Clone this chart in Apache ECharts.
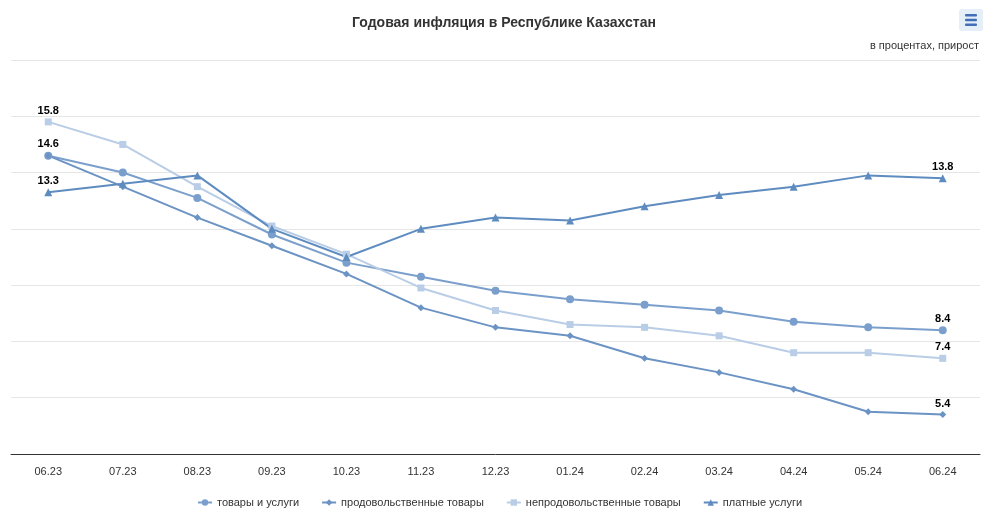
<!DOCTYPE html>
<html><head><meta charset="utf-8">
<script src="https://cdn.jsdelivr.net/npm/echarts@6/dist/echarts.min.js"></script>
<style>html,body{margin:0;padding:0;background:#fff}#c{width:1008px;height:529px}</style>
</head><body><div id="c"></div>
<script>
var categories = ['06.23','07.23','08.23','09.23','10.23','11.23','12.23','01.24','02.24','03.24','04.24','05.24','06.24'];
var goodsServices = [14.6,14.0,13.1,11.8,10.8,10.3,9.8,9.5,9.3,9.1,8.7,8.5,8.4];
var foodGoods = [14.6,13.5,12.4,11.4,10.4,9.2,8.5,8.2,7.4,6.9,6.3,5.5,5.4];
var nonFoodGoods = [15.8,15.0,13.5,12.1,11.1,9.9,9.1,8.6,8.5,8.2,7.6,7.6,7.4];
var paidServices = [13.3,13.6,13.9,12.0,11.0,12.0,12.4,12.3,12.8,13.2,13.5,13.9,13.8];
var seriesNames = ['товары и услуги','продовольственные товары','непродовольственные товары','платные услуги'];

var chart = echarts.init(document.getElementById('c'), null, {renderer:'canvas'});
var last = categories.length - 1;
function mkLabel(showFirst){
  return {
    show: true,
    position: 'top',
    distance: 2,
    color: '#000',
    fontWeight: 'bold',
    fontSize: 11,
    fontFamily: 'Liberation Sans, Arial, sans-serif',
    formatter: function(p){
      if (p.dataIndex === last || (showFirst && p.dataIndex === 0)) return p.value.toFixed(1);
      return '';
    }
  };
}
function mkSeries(name, data, color, symbol, size, showFirst){
  return {
    name: name, type: 'line', data: data,
    symbol: symbol, symbolSize: size,
    lineStyle: {color: color, width: 2},
    itemStyle: {color: color},
    label: mkLabel(showFirst),
    emphasis: {disabled: true},
    z: 3
  };
}
chart.setOption({
  animation: false,
  title: [{
    text: 'Годовая инфляция в Республике Казахстан',
    left: 'center', top: 11,
    textStyle: {fontSize: 14, fontWeight: 'bold', color: '#333', fontFamily: 'Liberation Sans, Arial, sans-serif'}
  },{
    text: 'в процентах, прирост',
    right: 24, top: 35,
    textStyle: {fontSize: 11, fontWeight: 'normal', color: '#333', fontFamily: 'Liberation Sans, Arial, sans-serif'}
  }],
  graphic: [
    {type:'rect', right: 25, top: 9, shape:{width:24, height:22, r:3}, style:{fill:'#e6eef8'}},
    {type:'rect', right: 31, top: 14, shape:{width:12, height:2.4, r:1}, style:{fill:'#3e6fb8'}},
    {type:'rect', right: 31, top: 18.8, shape:{width:12, height:2.4, r:1}, style:{fill:'#3e6fb8'}},
    {type:'rect', right: 31, top: 23.6, shape:{width:12, height:2.4, r:1}, style:{fill:'#3e6fb8'}}
  ],
  legend: {
    bottom: 16, left: 192,
    itemWidth: 14, itemHeight: 8, itemGap: 22,
    textStyle: {fontSize: 11, color: '#333', fontFamily: 'Liberation Sans, Arial, sans-serif'},
    data: seriesNames
  },
  grid: {left: 11, right: 28, top: 60, bottom: 75, containLabel: false},
  xAxis: {
    type: 'category', data: categories, boundaryGap: true,
    axisLine: {lineStyle: {color: '#333', width: 1}},
    axisTick: {show: false},
    axisLabel: {color: '#333', fontSize: 11, margin: 12, fontFamily: 'Liberation Sans, Arial, sans-serif'},
    splitLine: {show: false}
  },
  yAxis: {
    type: 'value', min: 4, max: 18, interval: 2,
    axisLine: {show: false}, axisTick: {show: false},
    axisLabel: {show: false},
    splitLine: {lineStyle: {color: '#e6e6e6', width: 1}}
  },
  series: [
    mkSeries(seriesNames[0], goodsServices, '#7b9fcc', 'circle', 8, true),
    mkSeries(seriesNames[1], foodGoods, '#6b93c4', 'diamond', 7, false),
    mkSeries(seriesNames[2], nonFoodGoods, '#b9cde6', 'rect', 7, true),
    mkSeries(seriesNames[3], paidServices, '#5f8cc0', 'triangle', 8, true)
  ]
});
</script></body></html>
